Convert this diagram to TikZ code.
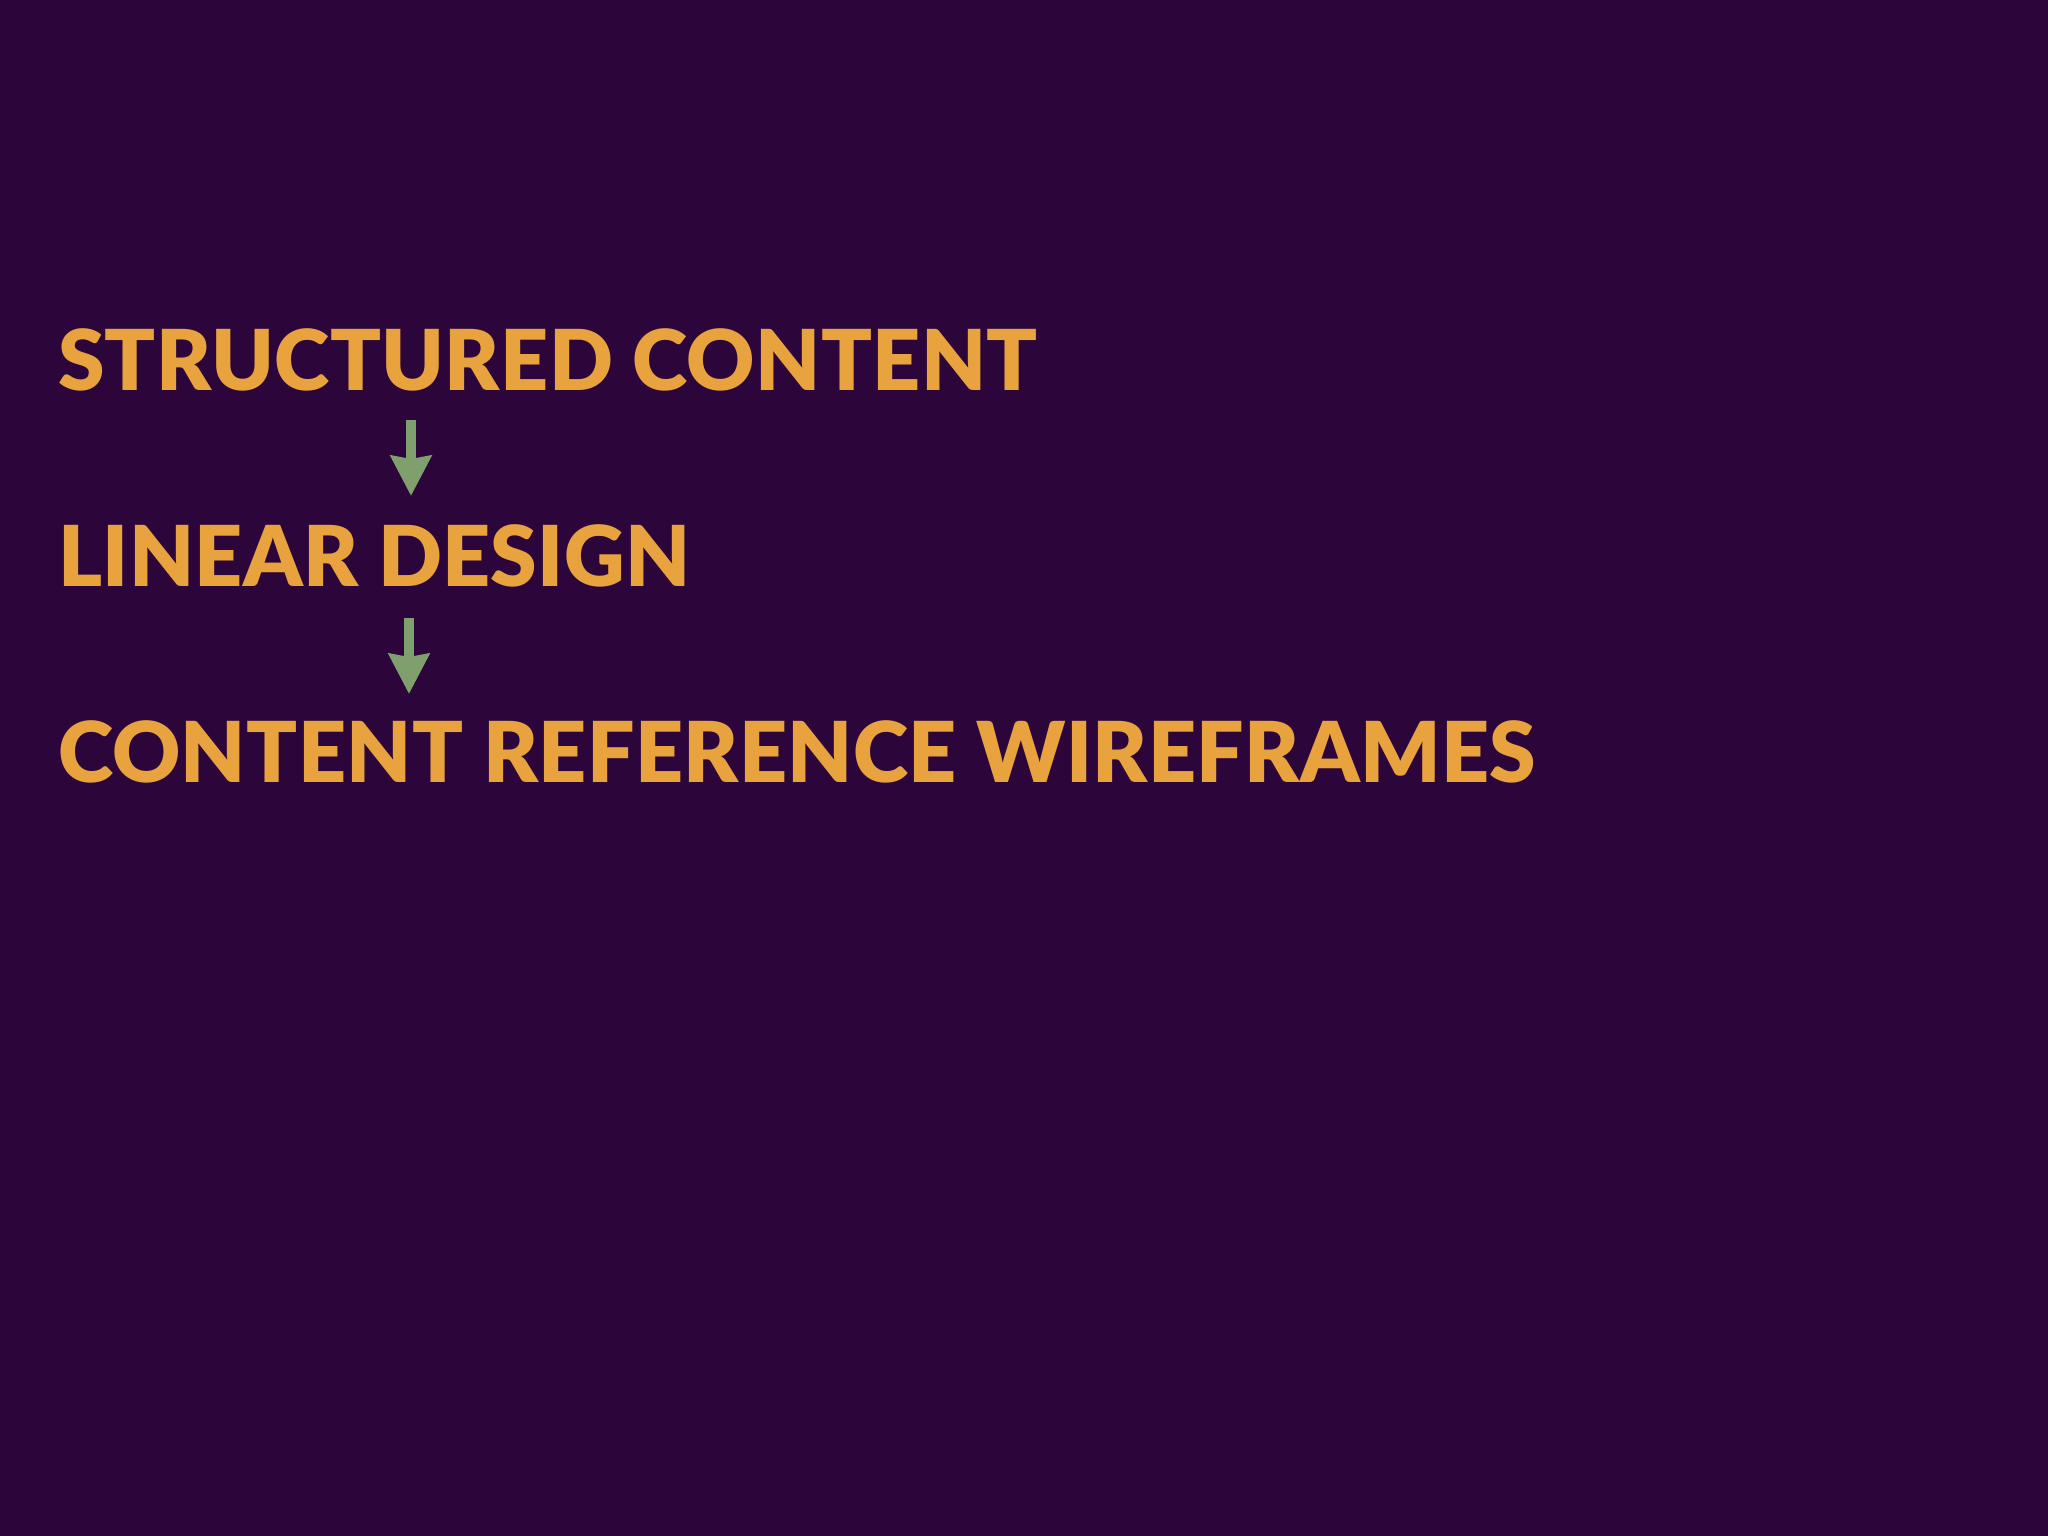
\documentclass[tikz,border=0pt]{standalone}
\usepackage{fontspec}
\setmainfont{Lato}
\newfontfamily\heavyfont[LetterSpace=0.4]{Lato Black}
\usetikzlibrary{arrows.meta}
\definecolor{bgpurple}{HTML}{2C063B}
\definecolor{txtorange}{HTML}{E8A23E}
\definecolor{arrgreen}{HTML}{7FA06C}
\tikzset{
  label/.style={anchor=base west, inner sep=0pt, text=txtorange, font=\fontsize{84}{100}\selectfont\heavyfont},
  flow/.style={draw=arrgreen, line width=10pt, -{Stealth[width=40pt,length=40pt,inset=3pt]}}
}
\begin{document}
\begin{tikzpicture}[x=1pt,y=-1pt]
\fill[bgpurple] (0,0) rectangle (2048,1536);
\useasboundingbox (0,0) rectangle (2048,1536);
\node[label] (s1) at (58,390) {STRUCTURED CONTENT};
\node[label] (s2) at (58,586) {LINEAR DESIGN};
\node[label] (s3) at (58,782) {CONTENT REFERENCE WIREFRAMES};
\coordinate (a1s) at (411,420);
\coordinate (a1e) at (411,496);
\coordinate (a2s) at (409,618);
\coordinate (a2e) at (409,694);
\draw[flow] (a1s) -- (a1e);
\draw[flow] (a2s) -- (a2e);
\end{tikzpicture}
\end{document}
